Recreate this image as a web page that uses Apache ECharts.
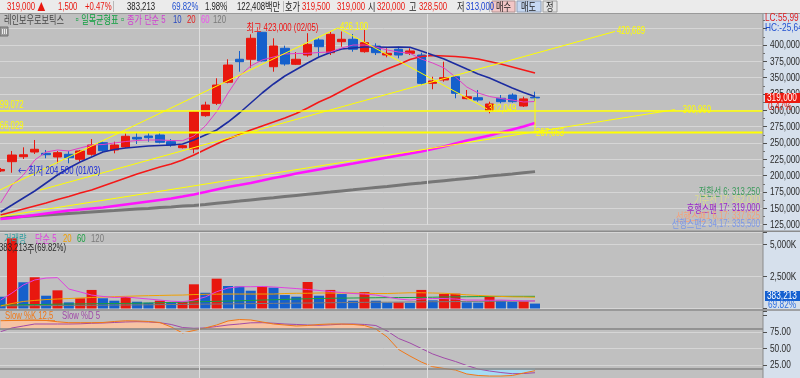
<!DOCTYPE html>
<html><head><meta charset="utf-8"><title>레인보우로보틱스</title>
<script src="https://cdn.jsdelivr.net/npm/echarts@6/dist/echarts.min.js"></script>
<style>html,body{margin:0;padding:0;background:#c0c0c0;overflow:hidden}#c{width:800px;height:378px}</style>
</head><body><div id="c"></div>
<script>
// ---------------- DATA ----------------
const tradeDates = ['01/02','01/03','01/06','01/07','01/08','01/09','01/10','01/13','01/14','01/15','01/16','01/17','01/20','01/21','01/22','01/23','01/24','01/31','02/03','02/04','02/05','02/06','02/07','02/10','02/11','02/12','02/13','02/14','02/17','02/18','02/19','02/20','02/21','02/24','02/25','02/26','02/27','02/28','03/04','03/05','03/06','03/07','03/10','03/11','03/12','03/13','03/14','03/17'];
const futureSlots = 20;
const openP  = [207200,221400,229000,236200,234200,228600,232700,225100,232700,250500,239300,243900,258700,260700,262200,252000,242800,240800,291800,310700,342900,378100,378100,419400,366700,394900,370400,384600,407600,388200,405000,408700,389700,398400,384600,393400,387200,384600,341300,346400,351400,317800,319300,299400,318400,323400,306600,320000];
const closeP = [209500,231600,232000,240400,232100,235200,227500,237800,246900,238200,246900,260300,256100,258100,251100,246900,245900,297900,308100,338700,369300,374400,410200,375500,398400,370900,378100,401000,397300,416300,408700,393400,403500,388200,387200,384600,390800,341300,344900,349900,326000,320800,315800,309700,313200,313200,317500,319000];
const lowP   = [205600,204500,225500,233200,226600,218900,218900,221400,230600,236700,234200,242800,248500,252000,249500,244300,241600,234200,290200,308100,341300,359100,365200,374700,359100,368300,369300,382000,382000,384600,397300,389700,388200,384600,381100,379600,384600,338700,332200,343800,318400,316900,313200,295400,310700,311700,305100,313000];
const highP  = [211800,237800,243400,254600,239300,237800,237800,239300,256100,252000,252000,264800,266400,266400,267300,256100,246900,299000,313200,349000,378100,390800,416300,419800,410200,398900,389200,418000,410200,421400,420600,416800,423000,402500,394900,397300,394900,388200,351400,374400,354000,331100,331100,313200,323400,326000,320800,328500];
const ma5   = [158200,185700,201000,224000,236200,239300,237800,242400,246900,247700,250000,252300,253800,254600,254600,253800,253500,260700,276000,297900,326500,352500,367800,377000,381600,386200,386900,387200,388500,389200,395400,399900,399900,396900,392300,389200,387200,378500,372400,364800,351000,335700,326500,321100,318100,315800,312700,313500];
const ma10  = [144400,155100,165900,176600,188800,201000,211800,220900,228600,236200,240100,242400,243900,245400,246200,246900,248500,254600,262200,269900,282100,295900,311200,326500,340300,352500,362500,372400,381600,388500,393800,395400,396900,396900,396400,396900,396400,390800,384600,378500,370900,363200,355600,349500,341800,334200,327300,321100];
const ma20  = [139800,144400,149000,153600,158200,163600,168100,173500,178100,184200,190300,196500,202600,207900,213300,217900,224000,231600,240100,248500,256100,263000,269900,276000,282100,288300,295100,303600,312700,320400,329600,338700,347200,355600,363200,370100,377800,382300,383900,383100,382300,380800,378500,374700,370900,366300,361700,357100];
const ma60  = [133700,135200,137500,139800,142100,144400,146700,148300,149800,151300,153600,155900,158200,160500,162800,165100,168100,171200,175000,178900,182700,185700,188800,192600,196500,199500,203300,206400,209500,212500,215600,218600,221700,224800,227800,230900,233900,237000,240800,244600,249200,253800,257700,261500,266100,270700,275200,280600];
const ma120 = [135300,136500,137500,138800,139800,140900,142100,143200,144400,145500,146600,147800,148900,149900,151200,152200,153500,154500,155900,157700,159400,161100,162900,164600,166300,168100,169800,171500,173200,174900,176700,178400,180200,181900,183600,185400,187100,188800,190600,192300,194000,195800,197500,199400,201000,202700,204600,206200];
const volume = [920000,5480000,2050000,2440000,1000000,1420000,480000,800000,1450000,800000,610000,900000,530000,450000,610000,480000,510000,1890000,1230000,2330000,1760000,1720000,1390000,1730000,1630000,1050000,920000,2070000,1000000,1450000,1130000,610000,1290000,610000,450000,470000,430000,1450000,640000,1130000,1160000,480000,460000,950000,610000,530000,560000,383213];
const volMa5   = [660000,1210000,1840000,2230000,2380000,2410000,1520000,1290000,1050000,940000,860000,900000,820000,740000,660000,570000,530000,660000,900000,1310000,1600000,1700000,1700000,1720000,1680000,1620000,1560000,1480000,1410000,1330000,1250000,1170000,1130000,1050000,900000,740000,660000,740000,780000,780000,740000,660000,660000,640000,660000,630000,590000,590000];
const volMa20  = [200000,390000,550000,630000,700000,740000,780000,820000,860000,900000,920000,950000,980000,1000000,1020000,1040000,1050000,1090000,1110000,1120000,1130000,1130000,1130000,1130000,1130000,1170000,1190000,1190000,1210000,1210000,1210000,1210000,1190000,1170000,1170000,1200000,1230000,1230000,1210000,1190000,1130000,1070000,1020000,980000,940000,910000,900000,880000];
const volMa60  = [270000,280000,300000,310000,320000,340000,350000,360000,370000,380000,390000,400000,410000,430000,450000,470000,490000,520000,540000,560000,580000,600000,630000,660000,680000,710000,740000,760000,780000,800000,810000,820000,830000,840000,850000,855000,860000,870000,880000,900000,910000,920000,930000,940000,950000,950000,950000,950000];
const volMa120 = [200000,210000,210000,220000,230000,230000,240000,250000,250000,260000,270000,270000,280000,290000,300000,310000,320000,330000,340000,350000,360000,370000,380000,390000,400000,410000,420000,430000,440000,450000,460000,470000,480000,490000,490000,500000,510000,520000,530000,530000,540000,550000,560000,560000,570000,580000,580000,590000];
const slowK = [92.1,92.4,92.9,93.2,92.4,90.5,89.1,89.1,89.1,89.4,90.9,92.0,91.7,90.9,89.4,82.6,73.5,77.3,81.1,85.6,91.7,93.9,93.2,90.2,87.1,85.6,84.1,84.8,86.4,87.1,87.1,86.4,84.8,79.5,67.4,48.5,38.6,29.5,22.4,19.7,17.4,11.4,9.1,8.3,8.3,9.1,12.9,16.4];
const slowD = [75.5,81.1,84.1,87.1,87.1,87.1,87.1,87.4,88.2,88.6,89.4,90.2,90.6,90.2,89.1,86.4,81.8,80.6,81.1,83.3,85.6,87.1,88.9,89.1,88.3,87.1,86.4,85.6,85.2,85.9,86.8,87.1,86.4,84.8,76.5,65.2,58.3,50.0,41.7,35.6,30.3,24.2,18.9,15.9,13.6,11.8,12.1,13.3];
// trend lines: [index, price] pairs
const trendA = [[-0.055,178100],[29.67,426100]];
const trendB = [[29.67,426100],[42.8,302049]];
const trendC = [[3.46,177900],[54.03,420689]];
const trendD = [[-0.055,137400],[59.3,300960]];
const connector = [[47,319000],[47,267063]];
const hLevels = [299072, 266029];
const priceTicks = [125000,150000,175000,200000,225000,250000,275000,300000,325000,350000,375000,400000];
const volTicks = [2500000, 5000000];
const stochTicks = [25, 50, 75];
const stochBands = [20, 80];
const lastPrice = 319000, lastPct = '0.47%';
const highInfo = {price:423000, date:'02/05'};
const lowInfo = {price:204500, date:'01/03'};

// ---------------- LAYOUT ----------------
const FN = "'Liberation Sans',Arial,sans-serif";
const FK = "'Noto Sans CJK KR','Noto Sans CJK SC',sans-serif";
const N = tradeDates.length + futureSlots;
const BAND = 11.37;
const L = -5.06, W = N * BAND;
const UP = '#e8170f', DN = '#1560cc';
const cats = tradeDates.concat(Array.from({length: futureSlots}, (_, i) => 'F' + (i + 1)));
const monthBreaks = [];
tradeDates.forEach((d, i) => { if (i > 0 && d.slice(0,2) !== tradeDates[i-1].slice(0,2)) monthBreaks.push(i - 0.5); });
const fmt = v => v.toLocaleString('en-US');

const chart = echarts.init(document.getElementById('c'), null, {renderer:'canvas', width:800, height:378});

const pMin = 125000, pStep = 25000, pMax = 448900;
const grids = [
  {left:L, top:13, width:W, height:211.7, outerBoundsMode:'none', containLabel:false},
  {left:L, top:232, width:W, height:76.5, outerBoundsMode:'none', containLabel:false},
  {left:L, top:311, width:W, height:70.5, outerBoundsMode:'none', containLabel:false}
];
const xAxes = [];
[0,1,2].forEach(g => {
  xAxes.push({type:'category', gridIndex:g, data:cats, boundaryGap:true, show:false});
  xAxes.push({type:'value', gridIndex:g, min:-0.5, max:N-0.5, show:false});
});
const labelAxisBase = {position:'right', offset:-5.1, z:20, splitLine:{show:false},
  axisLine:{show:false}, axisTick:{show:true, length:4, lineStyle:{color:'#505050'}}, axisLabel:{show:false}};
const gridAxisBase = {position:'right', axisLine:{show:false}, axisTick:{show:false}, axisLabel:{show:false}};
const vMax = 5976563, sMax = 106.8;
const yAxes = [
  Object.assign({type:'value', gridIndex:0, min:pMin, max:pMax, interval:pStep, splitLine:{show:true, lineStyle:{color:'#d6d6d6', width:1}}}, gridAxisBase),
  Object.assign({}, labelAxisBase, {type:'value', gridIndex:0, min:pMin, max:pMax, interval:pStep,
    minorTick:{show:true, splitNumber:2, length:2, lineStyle:{color:'#707070'}}}),
  Object.assign({type:'value', gridIndex:1, min:0, max:vMax, interval:2500000, splitLine:{show:true, lineStyle:{color:'#d6d6d6', width:1}}}, gridAxisBase),
  Object.assign({}, labelAxisBase, {type:'value', gridIndex:1, min:0, max:vMax, interval:2500000}),
  Object.assign({type:'value', gridIndex:2, min:0, max:sMax, interval:25, splitLine:{show:false}}, gridAxisBase),
  Object.assign({}, labelAxisBase, {type:'value', gridIndex:2, min:0, max:sMax, interval:25})
];

const line = (data, color, width, xi, yi, z, extra) => Object.assign({type:'line', data, xAxisIndex:xi, yAxisIndex:yi,
  symbol:'none', showSymbol:false, silent:true, animation:false, z:z || 4, lineStyle:{color, width}}, extra || {});
const monthLine = (xi, yi, y0) => ({type:'line', xAxisIndex:xi, yAxisIndex:yi, data:[[0,y0]], symbol:'none', z:1, silent:true,
  lineStyle:{opacity:0}, markLine:{symbol:['none','none'], silent:true, animation:false, label:{show:false},
  lineStyle:{color:'#dedede', width:1, type:'solid'}, data: monthBreaks.map(b => ({xAxis:b}))}});

const series = [
  monthLine(1, 0, pMin),
  monthLine(3, 2, 0),
  {type:'line', xAxisIndex:5, yAxisIndex:4, data:[[0,0]], symbol:'none', z:1, silent:true, lineStyle:{opacity:0},
    markLine:{symbol:['none','none'], silent:true, animation:false, label:{show:false},
      data: stochTicks.map(v => ({yAxis:v, lineStyle:{color:'#d6d6d6', width:1, type:'solid'}}))
        .concat(stochBands.map(v => ({yAxis:v, lineStyle:{color:'#858585', width:1.5, type:'solid'}})))
        .concat(monthBreaks.map(b => ({xAxis:b, lineStyle:{color:'#dedede', width:1, type:'solid'}})))}},
  {type:'candlestick', xAxisIndex:0, yAxisIndex:0, barWidth:9, z:3, silent:true, animation:false,
    data: openP.map((o, i) => [o, closeP[i], lowP[i], highP[i]]),
    itemStyle:{color:UP, color0:DN, borderColor:UP, borderColor0:DN, borderWidth:1}},
  line(ma120, '#767676', 3, 0, 0, 4),
  line(ma60, '#ff14ff', 2.5, 0, 0, 4),
  line(ma20, '#f41818', 1.6, 0, 0, 4),
  line(ma10, '#1c2ca0', 1.6, 0, 0, 4),
  line(ma5, '#e040c8', 1, 0, 0, 4),
  line([[-0.55, hLevels[0]], [N, hLevels[0]]], '#ffff00', 1.5, 1, 0, 5),
  line([[-0.55, hLevels[1]], [N, hLevels[1]]], '#ffff00', 2, 1, 0, 5),
  line(trendA, '#ffff00', 1, 1, 0, 5),
  line(trendB, '#ffff00', 1, 1, 0, 5),
  line(trendC, '#ffff00', 1, 1, 0, 5),
  line(trendD, '#ffff00', 1, 1, 0, 5),
  line(connector, '#ffff00', 1, 1, 0, 5),
  {type:'bar', xAxisIndex:2, yAxisIndex:2, barWidth:10, z:3, silent:true, animation:false,
    data: volume.map((v, i) => ({value:v, itemStyle:{color: (i > 0 && v > volume[i-1]) ? UP : DN}}))},
  line(volMa120, '#7c7c7c', 1, 2, 2, 4),
  line(volMa60, '#18a040', 1, 2, 2, 4),
  line(volMa20, '#f0a000', 1, 2, 2, 4),
  line(volMa5, '#e040e0', 1, 2, 2, 4),
  line(slowK.map(k => Math.min(k, stochBands[1])), '#000', 0, 4, 4, 2, {stack:'ob', lineStyle:{opacity:0}}),
  line(slowK.map(k => Math.max(k - stochBands[1], 0)), '#000', 0, 4, 4, 2, {stack:'ob', lineStyle:{opacity:0}, areaStyle:{color:'#f7c3a3', opacity:1}}),
  line(slowK.map(k => Math.min(k, stochBands[0])), '#000', 0, 4, 4, 2, {stack:'os', lineStyle:{opacity:0}}),
  line(slowK.map(k => stochBands[0] - Math.min(k, stochBands[0])), '#000', 0, 4, 4, 2, {stack:'os', lineStyle:{opacity:0}, areaStyle:{color:'#a4dcf4', opacity:1}}),
  line(slowD, '#a04aa8', 1, 4, 4, 4),
  line(slowK, '#f07818', 1, 4, 4, 4)
];

chart.setOption({animation:false, backgroundColor:'#c0c0c0', grid:grids, xAxis:xAxes, yAxis:yAxes, series});

// ---------------- TEXT / DECORATION ----------------
const SX = 0.74;
const mk = s => s.replace(/([가-힣←▲▫]+)/g, '{k|$1}');
function T(x, y, s, color, opt) {
  opt = opt || {};
  return {type:'text', x, y, z:opt.z || 50, scaleX:opt.sx || SX, silent:true,
    style:{text: mk(s), fill:color, fontSize:opt.size || 10.5, fontFamily:FN,
      align:opt.align || 'left', verticalAlign:'middle', textAlign:opt.align || 'left', textVerticalAlign:'middle',
      rich:{k:{fontSize:opt.ksize || 11, fontFamily:FK, fill:color}}}};
}
const R = (x, y, w, h, fill, z, stroke) => ({type:'rect', z:z || 30, silent:true, shape:{x, y, width:w, height:h}, style:{fill, stroke: stroke || null, lineWidth: stroke ? 1 : 0}});
const toPx = (gi, pt) => chart.convertToPixel({xAxisIndex: gi * 2 + 1, yAxisIndex: gi * 2}, pt);

const els = [];
// right axis panel
els.push(R(763, 13, 37, 365, '#d6e0ec', 10));
els.push(R(762.5, 13, 1, 365, '#8a8a8a', 12));
// axis labels placed through the axis scales
priceTicks.forEach(v => els.push(T(770, toPx(0, [0, v])[1] + 0.5, fmt(v), '#2a2a2a', {z:25, sx:0.79})));
volTicks.forEach(v => els.push(T(770, toPx(1, [0, v])[1] + 0.5, fmt(v / 1000) + 'K', '#2a2a2a', {z:25, sx:0.79})));
stochTicks.forEach(v => els.push(T(770, toPx(2, [0, v])[1] + 0.5, v.toFixed(2), '#2a2a2a', {z:25, sx:0.79})));
// panel separators
els.push(R(0, 230.5, 800, 1.5, '#8c8c8c', 35));
els.push(R(0, 309.2, 800, 1.5, '#8c8c8c', 35));
// header bar
els.push(R(0, 0, 800, 13, '#ebebeb', 30));
els.push(R(0, 13, 800, 1, '#9a9a9a', 31));
[113, 226, 283, 489].forEach(x => els.push(R(x, 1, 1, 11, '#b8b8b8', 31)));
els.push(R(492, 1, 23, 11, '#f2c6c6', 31, '#b09090'));
els.push(R(517, 1, 24, 11, '#c6d8f2', 31, '#90a0b8'));
els.push(R(543, 1, 14, 11, '#e4e4e4', 31, '#a0a0a0'));
const header = [[7,'319,000 ▲',UP],[58,'1,500',UP],[85,'+0.47%',UP],[127,'383,213','#1a1a1a'],[172,'69.82%','#2050d0'],
  [205,'1.98%','#1a1a1a'],[237,'122,408백만','#1a1a1a'],[285,'호가','#1a1a1a'],[302,'319,500',UP],[337,'319,000',UP],
  [368,'시','#1a1a1a'],[377,'320,000',UP],[409,'고','#1a1a1a'],[419,'328,500',UP],[457,'저','#1a1a1a'],[466,'313,000','#1a40d0'],
  [496,'매수','#1a1a1a'],[521,'매도','#1a1a1a'],[546,'정','#1a1a1a']];
header.forEach(h => els.push(T(h[0], 6.8, h[1], h[2])));
// main legend row
[[4,'레인보우로보틱스','#464646'],[73,'▫일목균형표▫','#10a040'],[127,'종가 단순 5','#d040d0'],[173,'10','#2848c0'],
 [187,'20','#e02020'],[201,'60','#f050f0'],[213,'120','#7a7a7a']].forEach(h => els.push(T(h[0], 20.3, h[1], h[2])));
// small panel button
els.push(R(0, 27, 8, 9, '#9c9c9c', 30, '#707070'));
[2, 4, 6].forEach(x => els.push(R(x, 29, 0.8, 5, '#ffffff', 31)));
// volume legend
[[4,'거래량','#30a0a0'],[35,'단순 5','#e040e0'],[63,'20','#f0a000'],[77,'60','#18a040'],[91,'120','#7a7a7a']].forEach(h => els.push(T(h[0], 239, h[1], h[2])));
els.push(T(-1, 248.5, '383,213주(69.82%)', '#2a2a2a'));
// stoch legend
els.push(T(5, 316, 'Slow %K 12,5', '#f07818'));
els.push(R(5, 320, 50, 0.8, '#f07818', 50));
els.push(T(62, 316, 'Slow %D 5', '#a04aa8'));
// ichimoku info (right aligned)
[['전환선 6: 313,250','#3c9a5c',192],['기준선 17: 362,000','#dcdc90',200.3],['후행스팬 17: 319,000','#9a24c8',208.6],
 ['선행스팬1 6,17: 337,625','#f4a07a',216.6],['선행스팬2 34,17: 335,500','#7c98e8',224.2]].forEach(h => els.push(T(760, h[2], h[0], h[1], {align:'right'})));
// trend / level labels
const Y = '#ffff00';
const lab = (pt, text, dx, dy) => { const p = toPx(0, pt); els.push(T(p[0] + dx, p[1] + dy, text, Y, {z:6})); };
lab(trendA[1], fmt(trendA[1][1]), 2, -1);
lab(trendB[1], fmt(trendB[1][1]), 1, 0);
lab(trendC[1], fmt(trendC[1][1]), 2, 0);
lab(trendD[1], fmt(trendD[1][1]), 8, 0);
lab(connector[1], fmt(connector[1][1]), 1, 1);
hLevels.forEach(v => { const p = toPx(0, [0, v]); els.push(T(-4.5, p[1] - 6, fmt(v), Y, {z:6})); });
// high / low labels
const loIdx = lowP.indexOf(Math.min(...lowP));
const hp = toPx(0, [22.5, highInfo.price]);
els.push(T(hp[0] - 10, hp[1] - 2, '최고 ' + fmt(highInfo.price) + ' (' + highInfo.date + ')', '#f01010', {z:6}));
const lp = toPx(0, [loIdx, lowInfo.price]);
els.push(T(lp[0] + 6, lp[1] - 1.5, '← 최저 ' + fmt(lowInfo.price) + ' (' + lowInfo.date + ')', '#1a2ad8', {z:6}));
// right axis tags
const lpY = toPx(0, [47, lastPrice])[1];
els.push(R(765, lpY - 5, 35, 10, '#ec1a10', 55));
els.push(T(767, lpY + 0.3, fmt(lastPrice), '#ffffff', {z:56, sx:0.79}));
els.push(T(768, lpY + 9.5, lastPct, '#ec1a10', {z:56, sx:0.79}));
els.push(T(765, 18.5, 'LC:55,99', '#e02020', {z:56, sx:0.79}));
els.push(T(765, 28.3, 'HC:-25,64', '#2050d0', {z:56, sx:0.79}));
const lvY = Math.min(toPx(1, [47, volume[volume.length-1]])[1], 308.5 - 12.5);
els.push(R(765, lvY - 5, 35, 10, '#1460d0', 55));
els.push(T(767, lvY + 0.3, fmt(volume[volume.length-1]), '#ffffff', {z:56, sx:0.79}));
els.push(T(768, lvY + 9, '69.82%', '#3070e0', {z:56, sx:0.79}));

chart.setOption({graphic:{elements:els}});
</script></body></html>
